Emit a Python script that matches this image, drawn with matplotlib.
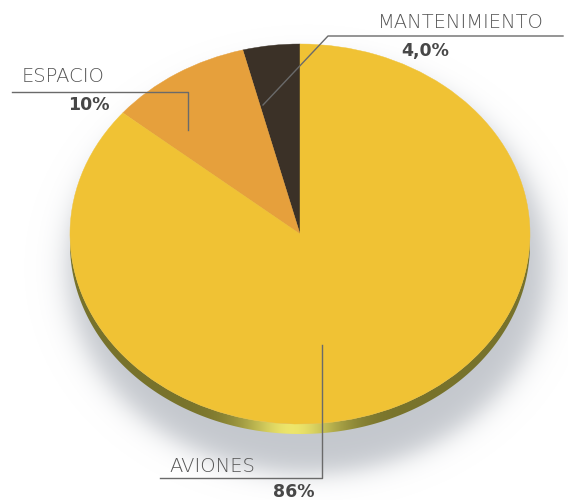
import numpy as np
import matplotlib
matplotlib.use("Agg")
import matplotlib.pyplot as plt
from matplotlib.patches import Polygon

# chart data
labels = ["MANTENIMIENTO", "ESPACIO", "AVIONES"]
shares = [4.0, 10.0, 86.0]
pct_labels = ["4,0%", "10%", "86%"]
colors = ["#3b3127", "#e6a03c", "#f0c234"]

W, H = 568, 500
CX, CY, RX, RY = 300, 234, 230, 190   # top face of the tilted pie (pixels)
DEPTH = 10                            # visible rim thickness


def pixel_axes(fig, z):
    ax = fig.add_axes([0, 0, 1, 1], zorder=z)
    ax.set_xlim(0, W)
    ax.set_ylim(H, 0)
    ax.axis("off")
    ax.patch.set_alpha(0)
    return ax


fig = plt.figure(figsize=(W / 100, H / 100), dpi=100)
bg = pixel_axes(fig, 0)

# soft grey drop shadow
yy, xx = np.mgrid[0:H, 0:W] + 0.5
d = np.hypot((xx - 308) / 240, (yy - 268) / 206)
shadow = np.zeros((H, W, 4))
shadow[..., :3] = [0.68, 0.70, 0.73]
shadow[..., 3] = 0.72 / (1 + np.exp((d - 1) / 0.035))
bg.imshow(shadow, extent=(0, W, H, 0), interpolation="bilinear")

# rim of the disc, olive with a light band near the front
t = np.linspace(0, np.pi, 300)
rim_top = np.column_stack([CX + RX * np.cos(t), CY + RY * np.sin(t)])
rim_bot = np.column_stack([CX + RX * np.cos(t[::-1]), CY + RY * np.sin(t[::-1]) + DEPTH])
rim = Polygon(np.vstack([rim_top, rim_bot]), closed=True, facecolor="none", edgecolor="none")
bg.add_patch(rim)
xs = np.arange(W) + 0.5
glow = np.exp(-((xs - 292) / 50) ** 2)
dark = np.array([0.47, 0.45, 0.17])
bright = np.array([0.93, 0.90, 0.42])
grad = np.tile((dark + (bright - dark) * glow[:, None])[None, :, :], (H, 1, 1))
im = bg.imshow(grad, extent=(0, W, H, 0))
im.set_clip_path(rim)
bg.set_xlim(0, W)
bg.set_ylim(H, 0)

# the pie itself, squashed into an ellipse
pa = fig.add_axes([(CX - RX) / W, 1 - (CY + RY) / H, 2 * RX / W, 2 * RY / H], zorder=1)
wedges, _ = pa.pie(shares, colors=colors, startangle=90, counterclock=True)
for w in wedges:
    w.set_edgecolor(w.get_facecolor())
    w.set_linewidth(0.3)
pa.set_aspect("auto")
pa.set_xlim(-1, 1)
pa.set_ylim(-1, 1)
pa.axis("off")

# labels and leader lines
fg = pixel_axes(fig, 2)
line_kw = dict(color="#6a6a6a", linewidth=1.0)
name_kw = dict(fontsize=14, color="#555555", ha="center", va="center", fontweight="light")
pct_kw = dict(fontsize=12.5, color="#474747", ha="center", va="center", fontweight="bold")

fg.plot([563, 328, 263], [36, 36, 105], **line_kw)
fg.text(461, 22, labels[0], **name_kw)
fg.text(425, 51, pct_labels[0], **pct_kw)

fg.plot([12, 188, 188], [92, 92, 130], **line_kw)
fg.text(63, 77, labels[1], **name_kw)
fg.text(89, 105, pct_labels[1], **pct_kw)

fg.plot([160, 322, 322], [478, 478, 345], **line_kw)
fg.text(212, 466, labels[2], **name_kw)
fg.text(294, 492, pct_labels[2], **pct_kw)

fig.savefig("out.png", dpi=100)
